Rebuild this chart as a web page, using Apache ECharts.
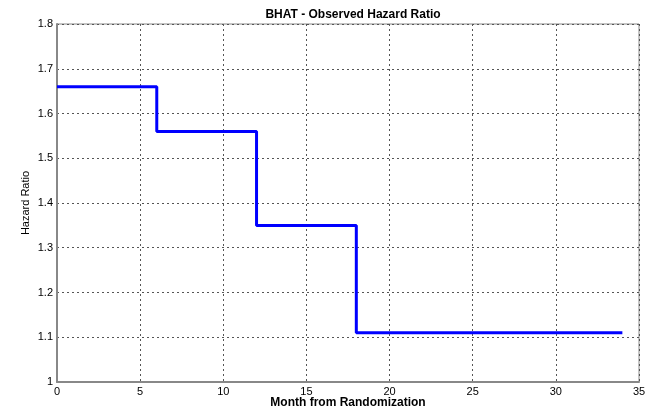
<!DOCTYPE html>
<html>
<head>
<meta charset="utf-8">
<script src="https://cdn.jsdelivr.net/npm/echarts@6/dist/echarts.min.js"></script>
<style>
  html, body { margin: 0; padding: 0; background: #fff; }
  #chart { width: 652px; height: 410px; }
</style>
</head>
<body>
<div id="chart"></div>
<script>
// Observed hazard ratio by interval (step function)
const months = [0, 6, 12, 18, 34];
const hazardRatio = [1.66, 1.56, 1.35, 1.11, 1.11];
const xTicks = [0, 5, 10, 15, 20, 25, 30, 35];
const yTicks = [1, 1.1, 1.2, 1.3, 1.4, 1.5, 1.6, 1.7, 1.8];

const font = '"Liberation Sans", Arial, sans-serif';
const chart = echarts.init(document.getElementById('chart'));

chart.setOption({
  animation: false,
  backgroundColor: '#fff',
  title: {
    text: 'BHAT - Observed Hazard Ratio',
    left: 348, top: 4, textAlign: 'center',
    textStyle: { fontFamily: font, fontSize: 12, fontWeight: 'bold', color: '#000' }
  },
  grid: {
    left: 57, right: 13, top: 24, bottom: 28,
    outerBoundsMode: 'none', containLabel: false,
    show: true, borderColor: '#888', borderWidth: 1
  },
  xAxis: {
    type: 'value', min: xTicks[0], max: xTicks[xTicks.length - 1], interval: 5,
    name: 'Month from Randomization', nameLocation: 'middle', nameGap: 15,
    nameMoveOverlap: false,
    nameTextStyle: { fontFamily: font, fontSize: 12, fontWeight: 'bold', color: '#000' },
    axisLine: { show: true, lineStyle: { color: '#888', width: 2 } },
    axisTick: { show: false },
    axisLabel: { fontFamily: font, fontSize: 11, color: '#000', margin: 4 },
    splitLine: { show: true, lineStyle: { color: '#555', type: [2, 3], width: 1 } }
  },
  yAxis: {
    type: 'value', min: yTicks[0], max: yTicks[yTicks.length - 1], interval: 0.1,
    name: 'Hazard Ratio', nameLocation: 'middle', nameGap: 26,
    nameMoveOverlap: false,
    nameTextStyle: { fontFamily: font, fontSize: 11, color: '#000' },
    axisLine: { show: true, lineStyle: { color: '#888', width: 2 } },
    axisTick: { show: false },
    axisLabel: {
      fontFamily: font, fontSize: 11, color: '#000', margin: 4,
      formatter: v => (Math.round(v * 10) / 10).toString()
    },
    splitLine: { show: true, lineStyle: { color: '#555', type: [2, 3], width: 1 } }
  },
  series: [{
    type: 'line',
    step: 'end',
    data: months.map((m, i) => [m, hazardRatio[i]]),
    showSymbol: false,
    lineStyle: { color: '#0000ff', width: 3 }
  }]
});
</script>
</body>
</html>
